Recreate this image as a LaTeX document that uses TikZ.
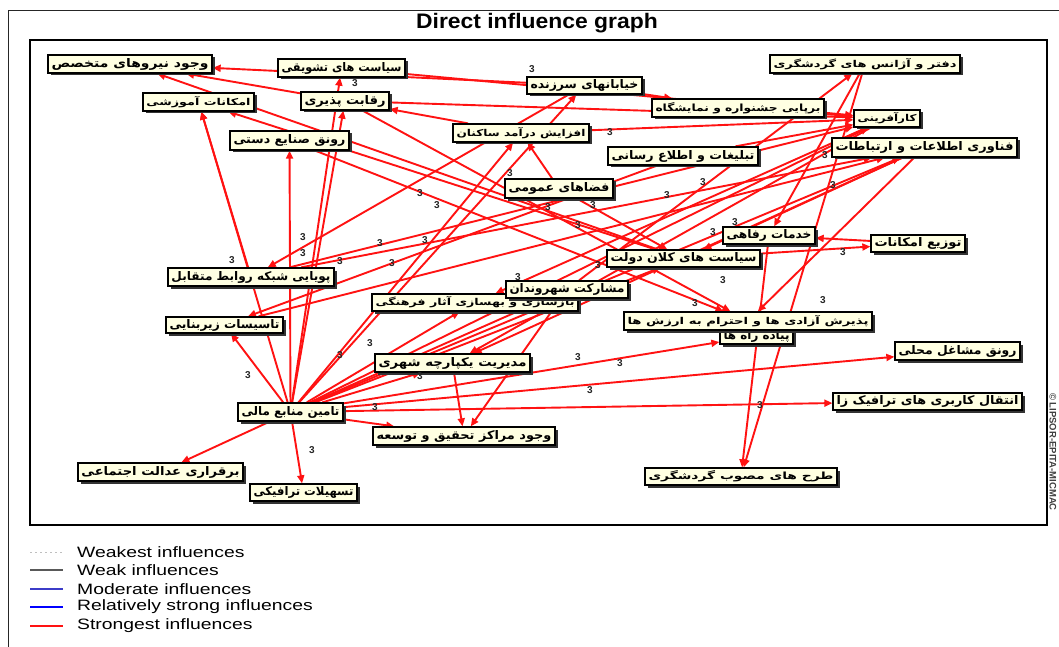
\documentclass[tikz,border=0pt]{standalone}
\usepackage{graphicx}
\usepackage{fontspec}
\setmainfont{Liberation Sans}
\newfontfamily\fa[Script=Arabic]{DejaVu Sans}
\TeXXeTstate=1
\usetikzlibrary{arrows.meta,shadows}
\pgfdeclarelayer{bg}
\pgfsetlayers{bg,main}
\definecolor{boxfill}{RGB}{255,255,226}
\definecolor{infred}{RGB}{255,18,18}
\definecolor{modblue}{RGB}{60,60,200}
\tikzset{
  var/.style={draw=black, line width=1.3pt, fill=boxfill, inner sep=0pt,
    font=\fa\bfseries\fontsize{10}{12}\selectfont,
    drop shadow={shadow xshift=2.5pt, shadow yshift=-2.5pt, fill=black!80, opacity=1}},
  infl/.style={draw=infred, line width=1.9pt, -{Triangle[length=8pt,width=7pt]}},
  val/.style={font=\bfseries\fontsize{10}{10}\selectfont, text=black!85, inner sep=0pt},
  legtext/.style={font=\fontsize{15}{15}\selectfont, anchor=west, inner sep=0pt},
}
\newcommand\vb[6]{%
  \pgfmathsetmacro\vbw{#3-#2}\pgfmathsetmacro\vbh{#5-#4}%
  \pgfmathsetmacro\vbx{(#2+#3)/2}\pgfmathsetmacro\vby{(#4+#5)/2}%
  \pgfmathsetmacro\vbt{#3-#2-7}%
  \node[var, minimum width=\vbw pt, minimum height=\vbh pt] (#1) at (\vbx,\vby) {\resizebox{\vbt pt}{9pt}{#6}};}
\begin{document}
\begin{tikzpicture}[x=1pt,y=-1pt]
\useasboundingbox (0,0) rectangle (1059,647);
% frames
\draw[line width=1pt, black!85] (1059,11) -- (8,11) -- (8,647);
\draw[line width=1.2pt] (30,40) rectangle (1047,525);
\node[font=\bfseries\fontsize{21}{22}\selectfont] (title) at (537,23) {\scalebox{1.09}[1]{Direct influence graph}};
\node[rotate=-90, font=\bfseries\fontsize{9.5}{10}\selectfont, text=black!75] (copy) at (1053,452) {© LIPSOR-EPITA-MICMAC};
% variables
\vb{V}{48}{212}{55}{73}{\beginR وجود نیروهای متخصص\endR}
\vb{AM}{143}{254}{93}{111}{\beginR امکانات آموزشی\endR}
\vb{ST}{278}{405}{59}{77}{\beginR سیاست های تشویقی\endR}
\vb{RP}{301}{389}{92}{110}{\beginR رقابت پذیری\endR}
\vb{RS}{230}{349}{131}{150}{\beginR رونق صنایع دستی\endR}
\vb{KH}{527}{642}{77}{94}{\beginR خیابانهای سرزنده\endR}
\vb{AD}{453}{589}{124}{142}{\beginR افزایش درآمد ساکنان\endR}
\vb{DA}{770}{960}{55}{73}{\beginR دفتر و آژانس های گردشگری\endR}
\vb{BJ}{652}{824}{99}{117}{\beginR برپایی جشنواره و نمایشگاه\endR}
\vb{KA}{854}{920}{110}{127}{\beginR کارآفرینی\endR}
\vb{TA}{608}{758}{147}{165}{\beginR تبلیغات و اطلاع رسانی\endR}
\vb{FI}{832}{1017}{138}{157}{\beginR فناوری اطلاعات و ارتباطات\endR}
\vb{FO}{505}{613}{179}{198}{\beginR فضاهای عمومی\endR}
\vb{KR}{723}{815}{227}{244}{\beginR خدمات رفاهی\endR}
\vb{TZ}{871}{965}{235}{252}{\beginR توزیع امکانات\endR}
\vb{SK}{607}{760}{250}{267}{\beginR سیاست های کلان دولت\endR}
\vb{PS}{168}{334}{268}{286}{\beginR پویایی شبکه روابط متقابل\endR}
\vb{BZ}{372}{578}{294}{311}{\beginR بازسازی و بهسازی آثار فرهنگی\endR}
\vb{MS}{506}{628}{281}{298}{\beginR مشارکت شهروندان\endR}
\vb{TS}{166}{283}{317}{333}{\beginR تاسیسات زیربنایی\endR}
\vb{HB}{720}{793}{328}{344}{\beginR پیاده راه ها\endR}
\vb{PA}{624}{872}{312}{330}{\beginR پذیرش آزادی ها و احترام به ارزش ها\endR}
\vb{MY}{375}{530}{354}{372}{\beginR مدیریت یکپارچه شهری\endR}
\vb{RM}{895}{1020}{342}{360}{\beginR رونق مشاغل محلی\endR}
\vb{TM}{238}{343}{403}{421}{\beginR تامین منابع مالی\endR}
\vb{EN}{833}{1022}{393}{410}{\beginR انتقال کاربری های ترافیک زا\endR}
\vb{VM}{373}{555}{427}{445}{\beginR وجود مراکز تحقیق و توسعه\endR}
\vb{BA}{78}{243}{463}{481}{\beginR برقراری عدالت اجتماعی\endR}
\vb{TT}{250}{357}{484}{501}{\beginR تسهیلات ترافیکی\endR}
\vb{TG}{645}{837}{468}{485}{\beginR طرح های مصوب گردشگری\endR}
% influences
\begin{pgfonlayer}{bg}
\foreach \t in {BA,TT,TS,RS,RP,ST,AM,AD,KH,BZ,MY,VM,RM,EN,HB,SK,KA,FI,MS}
  \draw[infl] (TM) -- (\t);
\draw[infl] (KH) -- (V);
\draw[infl] (RP) -- (V);
\draw[infl] (SK) -- (V);
\draw[infl] (PS) -- (AM);
\draw[infl] (SK) -- (AM);
\draw[infl] (AD) -- (RP);
\draw[infl] (RP) -- (KA);
\draw[infl] (ST) -- (KA);
\draw[infl] (AD) -- (KA);
\draw[infl] (BJ) -- (KA);
\draw[infl] (TA) -- (KA);
\draw[infl] (DA) -- (KR);
\draw[infl] (DA) -- (TG);
\draw[infl] (KR) -- (TG);
\draw[infl] (MS) -- (DA);
\draw[infl] (TZ) -- (KR);
\draw[infl] (SK) -- (TZ);
\draw[infl] (MY) -- (VM);
\draw[infl] (MS) -- (VM);
\draw[infl] (FO) -- (AD);
\draw[infl] (RS) -- (PA);
\draw[infl] (RP) -- (PA);
\draw[infl] (PS) -- (FI);
\draw[infl] (PS) -- (KA);
\draw[infl] (TS) -- (FI);
\draw[infl] (FI) -- (SK);
\draw[infl] (FI) -- (PA);
\draw[infl] (KA) -- (BZ);
\draw[infl] (KA) -- (MY);
\draw[infl] (FO) -- (SK);
\draw[infl] (KH) -- (PS);
\draw[infl] (TA) -- (TS);
\draw[infl] (FI) -- (MY);
\draw[infl] (KH) -- (BJ);
\end{pgfonlayer}
% values
\foreach \p [count=\i] in {(532,69),(355,83),(610,132),(510,173),(420,193),(437,205),(548,207),(593,205),(578,225),(667,195),(703,182),(825,155),(833,185),(380,243),(392,263),(425,240),(518,277),(598,265),(695,303),(578,357),(620,363),(590,390),(375,407),(420,376),(370,343),(232,260),(303,237),(303,253),(340,261),(340,355),(735,222),(713,232),(843,252),(723,280),(823,300),(248,375),(312,450),(760,405)}
  \node[val] (v\i) at \p {3};
% legend
\coordinate (l1a) at (30,552); \coordinate (l1b) at (63,552);
\coordinate (l2a) at (30,570); \coordinate (l2b) at (63,570);
\coordinate (l3a) at (30,589); \coordinate (l3b) at (63,589);
\coordinate (l4a) at (30,607); \coordinate (l4b) at (63,607);
\coordinate (l5a) at (30,626); \coordinate (l5b) at (63,626);
\draw[black!25, line width=1pt, dash pattern=on 2pt off 3pt] (l1a) -- (l1b);
\draw[black!65, line width=1.2pt] (l2a) -- (l2b);
\draw[modblue, line width=1.3pt] (l3a) -- (l3b);
\draw[blue, line width=2.8pt] (l4a) -- (l4b);
\draw[infred, line width=2.8pt] (l5a) -- (l5b);
\node[legtext] (t1) at (77,552) {\scalebox{1.29}[1]{Weakest influences}};
\node[legtext] (t2) at (77,570) {\scalebox{1.29}[1]{Weak influences}};
\node[legtext] (t3) at (77,589) {\scalebox{1.29}[1]{Moderate influences}};
\node[legtext] (t4) at (77,607) {\scalebox{1.29}[1]{Relatively strong influences}};
\node[legtext] (t5) at (77,626) {\scalebox{1.29}[1]{Strongest influences}};
\end{tikzpicture}
\end{document}
